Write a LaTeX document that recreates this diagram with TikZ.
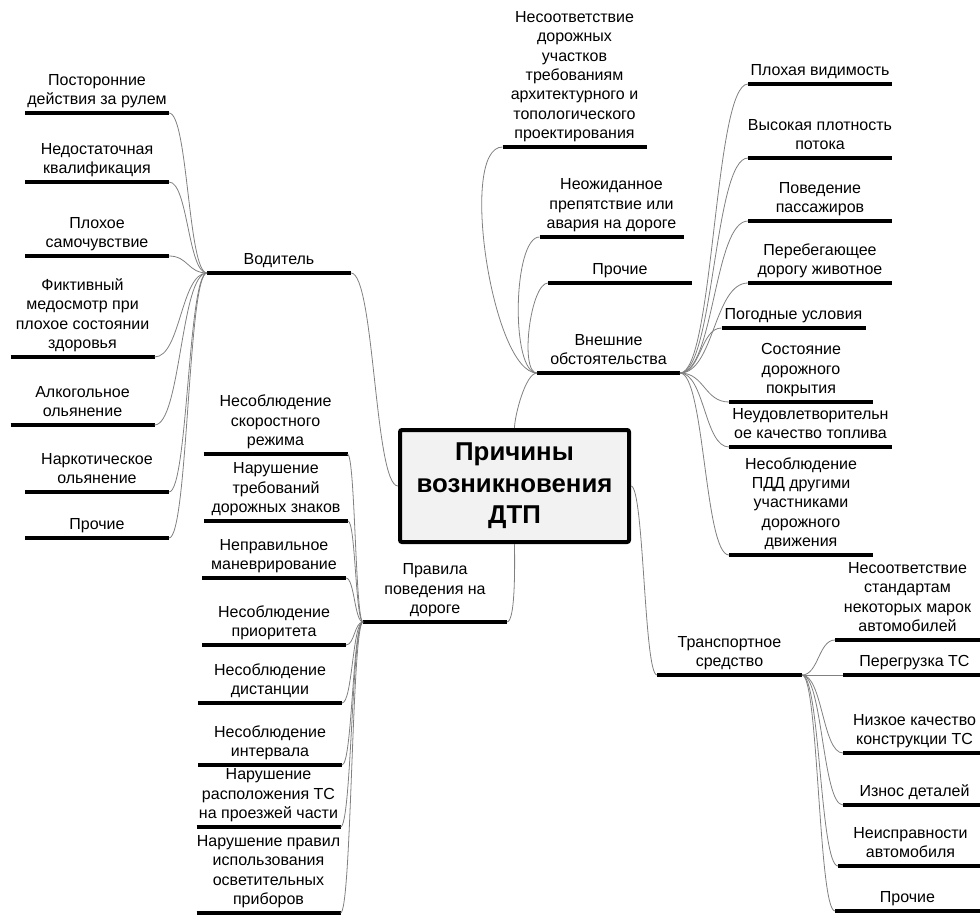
\documentclass[tikz,border=0pt]{standalone}
\usepackage{fontspec}
\setmainfont{Liberation Sans}
\usetikzlibrary{calc}
\definecolor{linkgray}{HTML}{808080}
\definecolor{rootfill}{HTML}{F2F2F2}
\newcommand{\topicfont}{\fontsize{16}{19.3}\selectfont}
\newcommand{\rootfont}{\fontsize{25.8}{31.5}\selectfont\bfseries}
\tikzset{
  topic/.style={align=center, minimum width=#1, inner xsep=0pt, inner ysep=8.5pt,
    outer sep=0pt, text depth=0pt, anchor=south, font=\topicfont},
  topic/.default=144pt,
  rootbox/.style={draw, line width=4pt, rounded corners=2pt, fill=rootfill,
    minimum width=229pt, minimum height=112pt, align=center, font=\rootfont},
  underbar/.style={line width=4.5pt},
  link/.style={draw=linkgray, line width=0.8pt,
    to path={let \p1=(\tikztostart), \p2=(\tikztotarget) in
      .. controls ({(\x1+\x2)/2},\y1) and ({(\x1+\x2)/2},\y2) .. (\tikztotarget)}},
  backlink/.style={draw=linkgray, line width=0.8pt, out=180, in=180, looseness=0.5}
}
\begin{document}
\begin{tikzpicture}[x=1pt,y=-1pt]
\useasboundingbox (0,0) rectangle (980,917);

% central topic
\node[rootbox] (root) at (514.5,486) {Причины\\возникновения\\ДТП};

% driver
\node[topic] (vod)  at (279,273)   {Водитель};
\node[topic] (vod1) at (97,113)    {Посторонние\\действия за рулем};
\node[topic] (vod2) at (97,182)    {Недостаточная\\квалификация};
\node[topic] (vod3) at (97,256)    {Плохое\\самочувствие};
\node[topic] (vod4) at (82.5,357)  {Фиктивный\\медосмотр при\\плохое состоянии\\здоровья};
\node[topic] (vod5) at (82.5,425)  {Алкогольное\\ольянение};
\node[topic] (vod6) at (97,492)    {Наркотическое\\ольянение};
\node[topic] (vod7) at (97,538)    {Прочие};

% road rules
\node[topic] (prav)  at (435,622)   {Правила\\поведения на\\дороге};
\node[topic] (prav1) at (275.5,454) {Несоблюдение\\скоростного\\режима};
\node[topic] (prav2) at (276,521)   {Нарушение\\требований\\дорожных знаков};
\node[topic] (prav3) at (274,578)   {Неправильное\\маневрирование};
\node[topic] (prav4) at (274,645)   {Несоблюдение\\приоритета};
\node[topic] (prav5) at (270,703)   {Несоблюдение\\дистанции};
\node[topic] (prav6) at (270,765)   {Несоблюдение\\интервала};
\node[topic] (prav7) at (268.5,827) {Нарушение\\расположения ТС\\на проезжей части};
\node[topic] (prav8) at (268.5,913) {Нарушение правил\\использования\\осветительных\\приборов};

% external circumstances
\node[topic=143pt] (vnesh) at (608.5,373) {Внешние\\обстоятельства};
\node[topic] (vn1)  at (574.5,147) {Несоответствие\\дорожных\\участков\\требованиям\\архитектурного и\\топологического\\проектирования};
\node[topic] (vn2)  at (611.5,237) {Неожиданное\\препятствие или\\авария на дороге};
\node[topic] (vn3)  at (620,283)   {Прочие};
\node[topic] (vn4)  at (820,84)    {Плохая видимость};
\node[topic] (vn5)  at (820,158)   {Высокая плотность\\потока};
\node[topic] (vn6)  at (820,221)   {Поведение\\пассажиров};
\node[topic] (vn7)  at (820,283)   {Перебегающее\\дорогу животное};
\node[topic] (vn8)  at (793.5,328) {Погодные условия};
\node[topic] (vn9)  at (801,402)   {Состояние\\дорожного\\покрытия};
\node[topic=163pt] (vn10) at (810.5,447) {Неудовлетворительн\\ое качество топлива};
\node[topic] (vn11) at (801,555)   {Несоблюдение\\ПДД другими\\участниками\\дорожного\\движения};

% vehicle
\node[topic=145pt] (trans) at (729.5,675) {Транспортное\\средство};
\node[topic=145pt] (tr1) at (907.5,640) {Несоответствие\\стандартам\\некоторых марок\\автомобилей};
\node[topic=143pt] (tr2) at (914.5,675) {Перегрузка ТС};
\node[topic=143pt] (tr3) at (914.5,753) {Низкое качество\\конструкции ТС};
\node[topic=143pt] (tr4) at (914.5,805) {Износ деталей};
\node[topic=145pt] (tr5) at (910.5,866) {Неисправности\\автомобиля};
\node[topic=145pt] (tr6) at (907.5,911) {Прочие};

% underlines
\foreach \n in {vod,prav,vnesh,trans}
  \draw[underbar] (\n.south west) -- (\n.south east);
\foreach \i in {1,...,7} \draw[underbar] (vod\i.south west) -- (vod\i.south east);
\foreach \i in {1,...,8} \draw[underbar] (prav\i.south west) -- (prav\i.south east);
\foreach \i in {1,...,11} \draw[underbar] (vn\i.south west) -- (vn\i.south east);
\foreach \i in {1,...,6} \draw[underbar] (tr\i.south west) -- (tr\i.south east);

% connectors
\draw[link] (vod.south east) to (root.west);
\draw[link] (root.east) to (trans.south west);
\draw[draw=linkgray, line width=0.8pt] (root.north) to[out=90, in=180, looseness=0.5] (vnesh.south west);
\draw[draw=linkgray, line width=0.8pt] (root.south) to[out=-90, in=0, looseness=0.3] (prav.south east);
\foreach \i in {1,...,7} \draw[link] (vod\i.south east) to (vod.south west);
\foreach \i in {1,...,8} \draw[link] (prav\i.south east) to (prav.south west);
\foreach \i in {1,2,3} \draw[backlink] (vn\i.south west) to (vnesh.south west);
\foreach \i in {4,...,11} \draw[link] (vnesh.south east) to (vn\i.south west);
\foreach \i in {1,...,6} \draw[link] (trans.south east) to (tr\i.south west);
\end{tikzpicture}
\end{document}
